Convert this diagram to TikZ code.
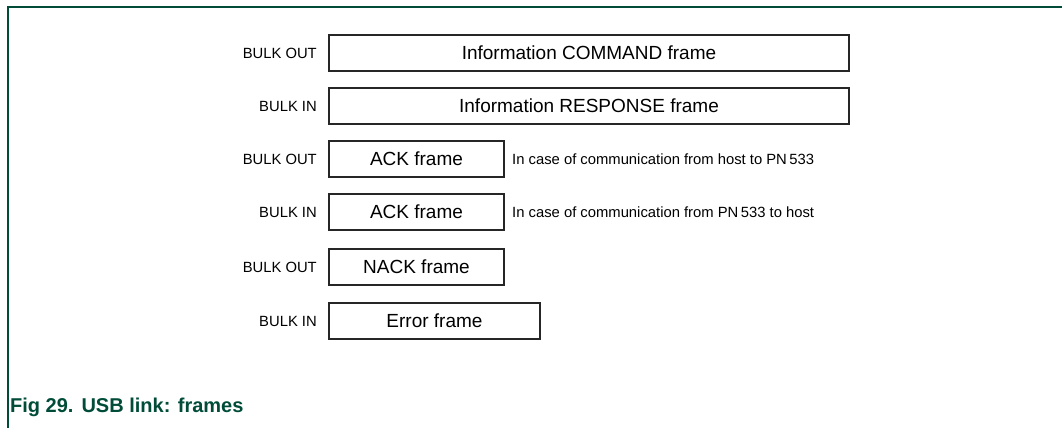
\documentclass[tikz,border=0pt]{standalone}
\usepackage{fontspec}
\setmainfont{Liberation Sans}
\definecolor{nxpgreen}{RGB}{0,76,56}
\begin{document}
\begin{tikzpicture}[x=1pt,y=-1pt,
  framebox/.style={draw=black!85,line width=1.1pt,inner sep=0pt,font=\fontsize{19}{21}\selectfont},
  dirlabel/.style={anchor=east,inner sep=0pt,font=\fontsize{14.8}{16}\selectfont},
  sidenote/.style={anchor=west,inner sep=0pt,font=\fontsize{14.8}{16}\selectfont}]
\useasboundingbox (0,0) rectangle (1062,428);
\draw[nxpgreen,line width=1.5pt] (8,428) coordinate (bl) -- (8,7) coordinate (tl) -- (1062,7) coordinate (tr);
% frames
\node[framebox,minimum width=520pt,minimum height=36pt] (f1) at (589,53) {Information COMMAND frame};
\node[framebox,minimum width=520pt,minimum height=36pt] (f2) at (589,106) {Information RESPONSE frame};
\node[framebox,minimum width=175pt,minimum height=36pt] (f3) at (416.5,159) {ACK frame};
\node[framebox,minimum width=175pt,minimum height=36pt] (f4) at (416.5,212) {ACK frame};
\node[framebox,minimum width=175pt,minimum height=36pt] (f5) at (416.5,267) {NACK frame};
\node[framebox,minimum width=211pt,minimum height=36pt] (f6) at (434.5,321) {Error frame};
% direction labels
\node[dirlabel] (l1) at (317,53) {BULK OUT};
\node[dirlabel] (l2) at (317,106) {BULK IN};
\node[dirlabel] (l3) at (317,159) {BULK OUT};
\node[dirlabel] (l4) at (317,212) {BULK IN};
\node[dirlabel] (l5) at (317,267) {BULK OUT};
\node[dirlabel] (l6) at (317,321) {BULK IN};
% notes
\node[sidenote] (n3) at (512,159) {In case of communication from host to PN\,533};
\node[sidenote] (n4) at (512,212) {In case of communication from PN\,533 to host};
% caption
\node[anchor=base west,inner sep=0pt,text=nxpgreen,font=\fontsize{20}{22}\bfseries\selectfont] (cap) at (10,412) {Fig 29.\hspace{0.4em}USB link: frames};
\end{tikzpicture}
\end{document}
